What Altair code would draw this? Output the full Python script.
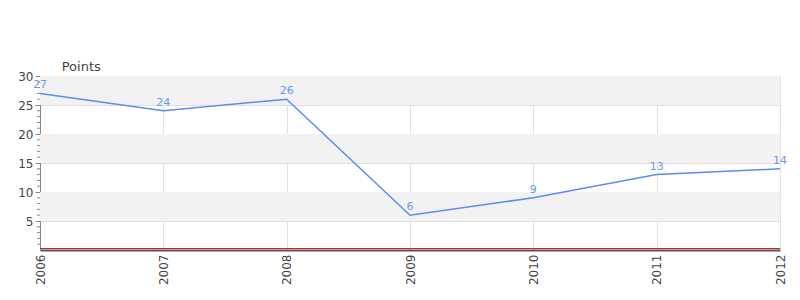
import altair as alt
import pandas as pd

years = [2006, 2007, 2008, 2009, 2010, 2011, 2012]
points = [27, 24, 26, 6, 9, 13, 14]

band_lo = [25, 15, 5]
band_hi = [30, 20, 10]

major_ticks = [5, 10, 15, 20, 25, 30]
minor_ticks = [v for v in range(1, 30) if v % 5 != 0]

df = pd.DataFrame({"year": years, "points": points})
bands = pd.DataFrame({"lo": band_lo, "hi": band_hi})
minor = pd.DataFrame({"v": minor_ticks})
zero = pd.DataFrame({"z": [0]})

xscale = alt.Scale(domain=[2006, 2012], nice=False, zero=False)
yscale = alt.Scale(domain=[0, 30], nice=False)

xaxis = alt.Axis(values=years, format="d", labelAngle=-90, labelFontSize=12,
                 labelColor="#444", labelFont="DejaVu Sans", grid=True,
                 gridColor="#e3e3e3", tickSize=0, domainColor="#555",
                 domainWidth=2, labelPadding=4, title=None)

yaxis = alt.Axis(values=major_ticks, labelFontSize=12, labelColor="#444",
                 labelFont="DejaVu Sans", grid=True, gridColor="#e0e0e0",
                 tickSize=5, tickColor="#888", domainColor="#888",
                 labelPadding=2, title=None, orient="left")

band_layer = alt.Chart(bands).mark_rect(color="#f2f2f2").encode(
    x=alt.value(0), x2=alt.value(740),
    y=alt.Y("lo:Q", scale=yscale, axis=yaxis),
    y2="hi:Q",
)

minor_layer = alt.Chart(minor).mark_rule(color="#888").encode(
    x=alt.value(-3), x2=alt.value(0),
    y=alt.Y("v:Q", scale=yscale, axis=yaxis),
)

base = alt.Chart(df).encode(
    x=alt.X("year:Q", scale=xscale, axis=xaxis),
    y=alt.Y("points:Q", scale=yscale, axis=yaxis),
)

line = base.mark_line(color="#5b8def", strokeWidth=1.5)
labels = base.mark_text(dy=-8, color="#6f97e6", fontSize=11,
                        font="DejaVu Sans").encode(text="points:Q")

zero_rule = alt.Chart(zero).mark_rule(color="#d62020", strokeWidth=1,
                                      yOffset=-1.5).encode(
    x=alt.value(0), x2=alt.value(740),
    y=alt.Y("z:Q", scale=yscale, axis=yaxis),
)

chart = alt.layer(band_layer, minor_layer, line, labels, zero_rule).properties(
    width=740, height=174,
    title=alt.TitleParams("Points", anchor="start", dx=44, dy=8, fontSize=13,
                          fontWeight="normal", color="#444",
                          font="DejaVu Sans", offset=4),
    autosize=alt.AutoSizeParams(type="none"),
    padding={"left": 40, "top": 76, "right": 20, "bottom": 50},
).configure_view(stroke=None).configure_axis(labelFont="DejaVu Sans")

chart.save("out.html", embed_options={"renderer": "svg", "actions": False})
